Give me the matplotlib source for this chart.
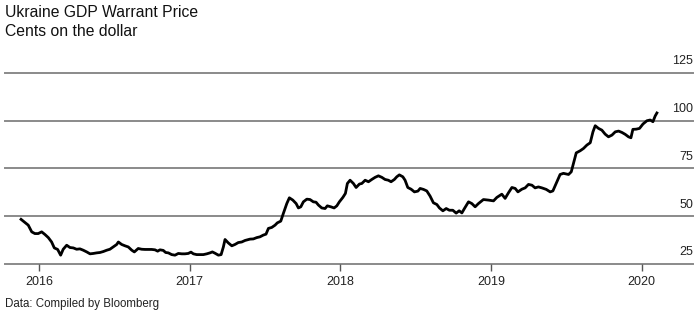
import matplotlib
matplotlib.use("Agg")
import matplotlib.pyplot as plt

# Time as decimal years, value in cents on the dollar
years = [
    2015.874, 2015.907, 2015.929, 2015.952, 2015.973, 2015.995, 2016.018, 2016.040,
    2016.062, 2016.084, 2016.102, 2016.124, 2016.144, 2016.161, 2016.184, 2016.206,
    2016.228, 2016.250, 2016.272, 2016.294, 2016.317, 2016.339, 2016.361, 2016.383,
    2016.405, 2016.427, 2016.450, 2016.471, 2016.493, 2016.516, 2016.527, 2016.549,
    2016.571, 2016.593, 2016.616, 2016.633, 2016.659, 2016.682, 2016.704, 2016.726,
    2016.748, 2016.770, 2016.788, 2016.803, 2016.825, 2016.841, 2016.859, 2016.881,
    2016.903, 2016.925, 2016.948, 2016.969, 2016.991, 2017.009, 2017.025, 2017.047,
    2017.069, 2017.091, 2017.114, 2017.135, 2017.151, 2017.169, 2017.191, 2017.209,
    2017.224, 2017.235, 2017.257, 2017.280, 2017.301, 2017.323, 2017.346, 2017.368,
    2017.401, 2017.423, 2017.446, 2017.467, 2017.489, 2017.507, 2017.523, 2017.545,
    2017.567, 2017.582, 2017.605, 2017.622, 2017.645, 2017.662, 2017.685, 2017.707,
    2017.722, 2017.738, 2017.755, 2017.778, 2017.799, 2017.821, 2017.839, 2017.855,
    2017.877, 2017.899, 2017.914, 2017.937, 2017.959, 2017.977, 2017.994, 2018.017,
    2018.034, 2018.047, 2018.065, 2018.087, 2018.105, 2018.127, 2018.143, 2018.165,
    2018.187, 2018.209, 2018.231, 2018.253, 2018.276, 2018.297, 2018.319, 2018.337,
    2018.359, 2018.375, 2018.392, 2018.415, 2018.430, 2018.448, 2018.470, 2018.492,
    2018.515, 2018.530, 2018.552, 2018.574, 2018.596, 2018.618, 2018.641, 2018.658,
    2018.681, 2018.703, 2018.724, 2018.747, 2018.769, 2018.789, 2018.807, 2018.824,
    2018.851, 2018.873, 2018.895, 2018.917, 2018.950, 2018.984, 2019.017, 2019.039,
    2019.072, 2019.094, 2019.116, 2019.139, 2019.161, 2019.179, 2019.205, 2019.227,
    2019.249, 2019.272, 2019.293, 2019.315, 2019.338, 2019.367, 2019.393, 2019.411,
    2019.438, 2019.459, 2019.481, 2019.515, 2019.533, 2019.548, 2019.566, 2019.592,
    2019.614, 2019.637, 2019.659, 2019.677, 2019.692, 2019.714, 2019.736, 2019.758,
    2019.780, 2019.803, 2019.825, 2019.847, 2019.869, 2019.891, 2019.913, 2019.929,
    2019.942, 2019.964, 2019.986, 2020.009, 2020.035, 2020.057, 2020.075, 2020.090,
    2020.106,
]
price = [
    48.8, 46.7, 45.3, 41.8, 40.9, 40.9, 41.8, 40.4,
    38.8, 36.5, 33.4, 32.6, 29.6, 32.7, 34.8, 33.6,
    33.4, 32.7, 32.9, 32.2, 31.3, 30.3, 30.5, 30.8,
    31.0, 31.5, 32.2, 32.7, 33.9, 35.2, 36.5, 35.2,
    34.5, 33.9, 32.2, 31.3, 33.1, 32.7, 32.6, 32.6,
    32.6, 32.4, 31.7, 32.4, 32.1, 31.0, 30.8, 29.9,
    29.6, 30.5, 30.3, 30.3, 30.5, 31.2, 30.3, 29.9,
    29.9, 29.9, 30.3, 30.8, 31.3, 30.6, 29.6, 29.9,
    33.9, 37.8, 36.0, 34.5, 35.2, 36.2, 36.5, 37.3,
    38.0, 38.1, 38.8, 39.2, 40.1, 40.6, 43.6, 44.1,
    45.3, 46.5, 47.4, 51.4, 56.6, 59.6, 58.4, 56.6,
    54.3, 54.9, 57.5, 58.9, 58.7, 57.5, 57.3, 55.8,
    54.3, 54.0, 55.4, 54.9, 54.3, 55.4, 57.5, 59.8,
    61.9, 67.1, 68.8, 67.1, 65.0, 66.8, 67.1, 68.8,
    68.0, 69.2, 70.3, 71.1, 70.3, 69.2, 68.8, 68.0,
    69.2, 70.6, 71.6, 70.6, 68.8, 65.0, 64.1, 62.7,
    63.1, 64.5, 64.0, 63.2, 60.5, 57.0, 56.1, 54.3,
    52.8, 54.0, 53.1, 53.1, 51.6, 52.8, 51.7, 54.0,
    57.5, 56.6, 54.9, 56.6, 58.7, 58.4, 58.0, 59.8,
    61.5, 59.3, 62.2, 65.0, 64.5, 62.7, 64.1, 64.8,
    66.6, 66.2, 64.8, 65.3, 64.8, 64.0, 62.7, 63.2,
    68.0, 71.8, 72.4, 71.8, 73.2, 77.6, 83.1, 84.2,
    85.4, 87.2, 88.4, 94.1, 97.3, 95.9, 95.0, 92.9,
    91.5, 92.4, 94.1, 94.5, 93.8, 92.8, 91.5, 91.0,
    95.4, 95.5, 95.9, 98.2, 99.9, 100.3, 99.4, 102.4,
    104.6,
]

ytick_vals = [25, 50, 75, 100, 125]
xtick_vals = [2016, 2017, 2018, 2019, 2020]
xtick_labels = ["2016", "2017", "2018", "2019", "2020"]

title = "Ukraine GDP Warrant Price"
subtitle = "Cents on the dollar"
source = "Data: Compiled by Bloomberg"

plt.rcParams["font.family"] = ["Liberation Sans", "DejaVu Sans"]

fig = plt.figure(figsize=(7, 3.15), dpi=100)
ax = fig.add_axes([0.007, 0.162, 0.983, 0.607])
ax.set_xlim(2015.774, 2020.341)
ax.set_ylim(25, 125)

grid_color = "#8a8a8a"
for v in ytick_vals:
    ax.axhline(v, color=grid_color, lw=1.4, zorder=1, clip_on=False)
    ax.annotate(str(v), xy=(1.0, v), xycoords=("axes fraction", "data"),
                xytext=(0, 4), textcoords="offset points",
                ha="right", va="bottom", fontsize=9, color="#222222")

ax.plot(years, price, color="black", lw=2.0, zorder=3,
        solid_joinstyle="round", solid_capstyle="butt")

for s in ax.spines.values():
    s.set_visible(False)
ax.set_yticks([])
ax.set_xticks(xtick_vals)
ax.set_xticklabels(xtick_labels, fontsize=9, color="#222222")
ax.tick_params(axis="x", length=5, width=1, color="#555555", pad=4)

fig.text(0.007, 0.960, title, fontsize=11.3, color="#111111", va="center", ha="left")
fig.text(0.007, 0.900, subtitle, fontsize=11.3, color="#111111", va="center", ha="left")
fig.text(0.007, 0.035, source, fontsize=8.3, color="#222222", va="center", ha="left")

fig.savefig("out.png", dpi=100)
